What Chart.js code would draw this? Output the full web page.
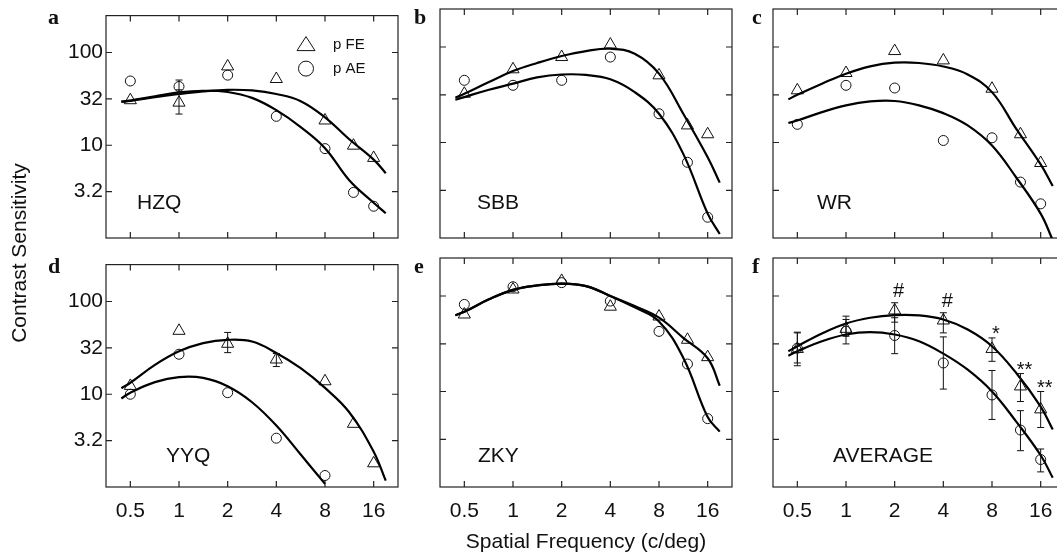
<!DOCTYPE html>
<html>
<head>
<meta charset="utf-8">
<script src="https://cdn.jsdelivr.net/npm/chart.js@4.4.1/dist/chart.umd.min.js"></script>
<style>
    html, body { margin: 0; padding: 0; background: #fff; overflow: hidden; }
    #wrap { position: relative; width: 1057px; height: 560px; overflow: hidden; }
    #wrap canvas { position: absolute; }
    .txt { position: absolute; font-family: "Liberation Sans", Arial, sans-serif; font-size: 21px; line-height: 1; color: #111; white-space: nowrap; }
    .letter { position: absolute; font-family: "Liberation Serif", "Times New Roman", serif; font-weight: bold; font-size: 22px; line-height: 1; color: #111; }
</style>
</head>
<body>
<div id="wrap"></div>
<script>
// spatial frequencies (c/deg) of the measured points and of the fitted curves
const freq = [0.5, 1, 2, 4, 8, 12, 16];
const curveFreq = [0.44, 0.5, 0.71, 1, 1.41, 2, 2.83, 4, 5.66, 8, 11.3, 16, 19];

const xTicks = [0.5, 1, 2, 4, 8, 16];
const xTickLabels = ['0.5', '1', '2', '4', '8', '16'];
const yTicks = [3.16, 10, 31.6, 100];
const yTickLabels = ['3.2', '10', '32', '100'];
const legendLabels = ['p FE', 'p AE'];

// a - HZQ
const hzqFE = [30.6, 28.8, 70.8, 51.8, 18.5, 9.9, 7.3];
const hzqAE = [49.3, 43, 57, 20.5, 9.2, 3.1, 2.2];
const hzqFElo = [null, 21.7, null, null, null, null, null];
const hzqFEhi = [null, 39.6, null, null, null, null, null];
const hzqAElo = [null, 36.6, null, null, null, null, null];
const hzqAEhi = [null, 50.5, null, null, null, null, null];
const hzqFEfit = [29.5, 30.1, 33, 35.7, 38.1, 39.6, 39, 35.7, 29.9, 20, 11.6, 7.0, 5.0];
const hzqAEfit = [29.5, 30.3, 33.7, 37.2, 38.7, 37.5, 32.4, 23.9, 15.7, 9.3, 4.2, 2.4, 1.85];

// b - SBB
const sbbFE = [32.4, 58.4, 78.5, 106, 50.5, 15.1, 12.2];
const sbbAE = [44.8, 39.7, 44.8, 78.5, 20, 6.2, 1.65];
const sbbFEfit = [29.4, 32.4, 43, 56, 68, 80.5, 90.7, 96, 85, 52.6, 20, 7.0, 3.8];
const sbbAEfit = [28, 29.9, 35.7, 41.3, 48, 51.5, 51, 46, 33.7, 20, 7.6, 1.8, 1.1];

// c - WR
const wrFE = [35.2, 53.4, 90.7, 72.4, 36.6, 12.2, 6.1];
const wrAE = [15.5, 39.7, 37.2, 10.5, 11.2, 3.85, 2.28];
const wrFEfit = [28.3, 31.6, 41.3, 52.5, 62.7, 68.5, 68, 62.5, 51.6, 33.7, 13.9, 5.9, 3.5];
const wrAEfit = [16, 17, 20.8, 24.5, 26.9, 27.2, 24.5, 20.3, 15.1, 9.3, 4.3, 1.8, 0.95];

// d - YYQ
const yyqFE = [12.3, 48.3, 35, 23.7, 13.8, 4.8, 1.8];
const yyqAE = [10, 27, 10.4, 3.36, 1.33, null, null];
const yyqFElo = [null, null, 28.1, 19.9, null, null, null];
const yyqFEhi = [null, null, 46.4, 27.5, null, null, null];
const yyqFEfit = [11.6, 13.3, 20.7, 29, 35.6, 38.6, 37, 27.9, 19.1, 11.7, 6.4, 2.4, 1.17];
const yyqAEfit = [9, 10.4, 13.5, 15.3, 15, 12.2, 8.2, 4.6, 2.24, 1.08, null, null, null];

// e - ZKY
const zkyFE = [64, 117, 144, 77.3, 61, 34.8, 22.9];
const zkyAE = [81.6, 125, 138, 88.5, 42.6, 19.4, 5.2];
const zkyFEfit = [63, 68.4, 92.3, 116, 129, 135, 127, 100, 78.5, 59.3, 36.5, 22.3, 11.5];
const zkyAEfit = [63, 68.4, 92.3, 116, 129, 135, 127, 100, 76, 54.2, 22.6, 5.4, 3.8];

// f - AVERAGE
const avgFE = [27.9, 45.3, 70.6, 55.4, 27.9, 11.3, 6.5];
const avgFElo = [19.9, 37.9, 53.2, 41.1, 20.7, 7.85, 4.2];
const avgFEhi = [41.8, 61.5, 85, 66.8, 36.4, 15.4, 10];
const avgAE = [28.4, 42.8, 38.6, 19.9, 9.2, 3.95, 1.94];
const avgAElo = [18.6, 31.5, 24.9, 10.6, 5.1, 2.4, 1.44];
const avgAEhi = [41.1, 56.8, 59.2, 37.3, 16.6, 6.3, 2.5];
const avgSig = ['', '', '#', '#', '*', '**', '**'];
const avgFEfit = [26.4, 29.8, 40.5, 51.5, 59.2, 63.1, 62.6, 56.8, 44.6, 29.8, 15.6, 6.95, 4.0];
const avgAEfit = [23.7, 26.4, 33.6, 39.5, 41.8, 39.5, 33.6, 24.9, 16.9, 10, 4.83, 2.15, 1.25];

const panels = [
    { letter: 'a', name: 'HZQ', col: 0, row: 0, fe: hzqFE, ae: hzqAE, feFit: hzqFEfit, aeFit: hzqAEfit,
      feLo: hzqFElo, feHi: hzqFEhi, aeLo: hzqAElo, aeHi: hzqAEhi, legend: true },
    { letter: 'b', name: 'SBB', col: 1, row: 0, fe: sbbFE, ae: sbbAE, feFit: sbbFEfit, aeFit: sbbAEfit },
    { letter: 'c', name: 'WR', col: 2, row: 0, fe: wrFE, ae: wrAE, feFit: wrFEfit, aeFit: wrAEfit },
    { letter: 'd', name: 'YYQ', col: 0, row: 1, fe: yyqFE, ae: yyqAE, feFit: yyqFEfit, aeFit: yyqAEfit,
      feLo: yyqFElo, feHi: yyqFEhi },
    { letter: 'e', name: 'ZKY', col: 1, row: 1, fe: zkyFE, ae: zkyAE, feFit: zkyFEfit, aeFit: zkyAEfit },
    { letter: 'f', name: 'AVERAGE', col: 2, row: 1, fe: avgFE, ae: avgAE, feFit: avgFEfit, aeFit: avgAEfit,
      feLo: avgFElo, feHi: avgFEhi, aeLo: avgAElo, aeHi: avgAEhi, sig: avgSig }
];

const PLOT_W = 292, PLOT_H = 229, AXIS_W = 60, AXIS_H = 40, PAD_T = 9, PAD_R = 10;
const colLeft = [106, 440, 773];
const rowTop = [9, 258];
const nameOffset = [[31, 192], [37, 192], [44, 192], [60, 196], [38, 196], [60, 196]];
const INK = '#111';
const FONT = '"Liberation Sans", Arial, sans-serif';

function pairs(xs, ys) {
    return xs.map((x, i) => ({ x: x, y: ys[i] }));
}

// frame with inward tick marks on all four sides
const frameTicks = {
    id: 'frameTicks',
    beforeDatasetsDraw(chart) {
        const { ctx, chartArea: a, scales: { x, y } } = chart;
        const t = 6;
        ctx.save();
        ctx.strokeStyle = '#222';
        ctx.lineWidth = 1.2;
        ctx.strokeRect(a.left, a.top, a.right - a.left, a.bottom - a.top);
        ctx.beginPath();
        xTicks.forEach(v => {
            const px = x.getPixelForValue(v);
            ctx.moveTo(px, a.bottom); ctx.lineTo(px, a.bottom - t);
            ctx.moveTo(px, a.top); ctx.lineTo(px, a.top + t);
        });
        yTicks.forEach(v => {
            const py = y.getPixelForValue(v);
            ctx.moveTo(a.left, py); ctx.lineTo(a.left + t, py);
            ctx.moveTo(a.right, py); ctx.lineTo(a.right - t, py);
        });
        ctx.stroke();
        ctx.restore();
    }
};

const errorBars = {
    id: 'errorBars',
    afterDatasetsDraw(chart) {
        const { ctx, scales: { x, y } } = chart;
        ctx.save();
        ctx.strokeStyle = INK;
        ctx.lineWidth = 1;
        chart.data.datasets.forEach(ds => {
            if (!ds.errLo) return;
            ds.data.forEach((p, i) => {
                if (p.y == null || ds.errLo[i] == null) return;
                const px = x.getPixelForValue(p.x);
                const y1 = y.getPixelForValue(ds.errLo[i]);
                const y2 = y.getPixelForValue(ds.errHi[i]);
                ctx.beginPath();
                ctx.moveTo(px, y1); ctx.lineTo(px, y2);
                ctx.moveTo(px - 3.5, y1); ctx.lineTo(px + 3.5, y1);
                ctx.moveTo(px - 3.5, y2); ctx.lineTo(px + 3.5, y2);
                ctx.stroke();
            });
        });
        ctx.restore();
    }
};

const sigMarks = {
    id: 'sigMarks',
    afterDraw(chart, args, opts) {
        if (!opts.labels) return;
        const { ctx, scales: { x, y } } = chart;
        ctx.save();
        ctx.fillStyle = INK;
        ctx.font = '20px ' + FONT;
        ctx.textAlign = 'center';
        ctx.textBaseline = 'alphabetic';
        opts.labels.forEach((t, i) => {
            if (!t) return;
            const px = x.getPixelForValue(freq[i]) + 4;
            const top = y.getPixelForValue(opts.top[i]);
            ctx.fillText(t, px, t === '#' ? top - 6 : top + 2);
        });
        ctx.restore();
    }
};

const legendBox = {
    id: 'legendBox',
    afterDraw(chart, args, opts) {
        if (!opts.show) return;
        const { ctx, chartArea: a } = chart;
        const cx = a.left + 200;
        const y1 = a.top + 29, y2 = a.top + 53;
        ctx.save();
        ctx.strokeStyle = INK;
        ctx.lineWidth = 1;
        ctx.beginPath();
        ctx.moveTo(cx, y1 - 8); ctx.lineTo(cx + 9, y1 + 6); ctx.lineTo(cx - 9, y1 + 6);
        ctx.closePath();
        ctx.stroke();
        ctx.beginPath();
        ctx.arc(cx, y2, 7.5, 0, Math.PI * 2);
        ctx.stroke();
        ctx.fillStyle = INK;
        ctx.font = '15px ' + FONT;
        ctx.textBaseline = 'middle';
        ctx.fillText(legendLabels[0], a.left + 227, y1);
        ctx.fillText(legendLabels[1], a.left + 227, y2);
        ctx.restore();
    }
};

function addText(cls, text, left, top, transform) {
    const d = document.createElement('div');
    d.className = cls;
    d.textContent = text;
    d.style.left = left + 'px';
    d.style.top = top + 'px';
    if (transform) d.style.transform = transform;
    wrap.appendChild(d);
}

const wrap = document.getElementById('wrap');

function initPanel(p, idx) {
    const canvas = document.createElement('canvas');
    const w = AXIS_W + PLOT_W + PAD_R, h = PAD_T + PLOT_H + AXIS_H;
    canvas.width = w;
    canvas.height = h;
    canvas.style.width = w + 'px';
    canvas.style.height = h + 'px';
    canvas.style.left = (colLeft[p.col] - AXIS_W) + 'px';
    canvas.style.top = (rowTop[p.row] - PAD_T) + 'px';
    wrap.appendChild(canvas);

    const curve = (ys) => ({
        data: pairs(curveFreq, ys),
        showLine: true,
        borderColor: '#000',
        borderWidth: 2.2,
        pointRadius: 0,
        tension: 0.4,
        spanGaps: false
    });
    const marks = (ys, style, r, lo, hi) => ({
        data: pairs(freq, ys),
        showLine: false,
        pointStyle: style,
        pointRadius: r,
        pointBorderWidth: 1,
        borderWidth: 1,
        borderColor: INK,
        backgroundColor: 'rgba(0,0,0,0)',
        errLo: lo || null,
        errHi: hi || null
    });

    new Chart(canvas, {
        type: 'scatter',
        data: {
            datasets: [
                curve(p.feFit),
                curve(p.aeFit),
                marks(p.fe, 'triangle', 7, p.feLo, p.feHi),
                marks(p.ae, 'circle', 5, p.aeLo, p.aeHi)
            ]
        },
        options: {
            responsive: false,
            animation: false,
            events: [],
            layout: { padding: { top: PAD_T, right: PAD_R, left: 0, bottom: 0 } },
            plugins: {
                legend: { display: false },
                tooltip: { enabled: false },
                sigMarks: { labels: p.sig || null, top: p.feHi || null },
                legendBox: { show: !!p.legend }
            },
            scales: {
                x: {
                    type: 'logarithmic',
                    min: 0.5 / Math.SQRT2,
                    max: 16 * Math.SQRT2,
                    afterFit: s => { s.height = AXIS_H; },
                    afterBuildTicks: s => { s.ticks = xTicks.map(v => ({ value: v })); },
                    grid: { display: false, drawTicks: false },
                    border: { display: false },
                    ticks: {
                        display: p.row === 1,
                        autoSkip: false,
                        maxRotation: 0,
                        padding: 12,
                        color: INK,
                        font: { family: FONT, size: 21 },
                        callback: (v, i) => xTickLabels[i]
                    }
                },
                y: {
                    type: 'logarithmic',
                    min: 1,
                    max: 250,
                    afterFit: s => { s.width = AXIS_W; },
                    afterBuildTicks: s => { s.ticks = yTicks.map(v => ({ value: v })); },
                    grid: { display: false, drawTicks: false },
                    border: { display: false },
                    ticks: {
                        display: p.col === 0,
                        autoSkip: false,
                        padding: 3,
                        color: INK,
                        font: { family: FONT, size: 21 },
                        callback: (v, i) => yTickLabels[i]
                    }
                }
            }
        },
        plugins: [frameTicks, errorBars, sigMarks, legendBox]
    });

    const letterLeft = [48, 414, 752][p.col];
    addText('letter', p.letter, letterLeft, rowTop[p.row] - 3.4);
    addText('txt', p.name, colLeft[p.col] + nameOffset[idx][0], rowTop[p.row] + nameOffset[idx][1], 'translateY(-50%)');
}

document.addEventListener('DOMContentLoaded', () => {
    panels.forEach(initPanel);
    addText('txt', 'Contrast Sensitivity', 18, 253, 'translate(-50%, -50%) rotate(-90deg)');
    addText('txt', 'Spatial Frequency (c/deg)', 586, 530, 'translateX(-50%)');
});
</script>
</body>
</html>
